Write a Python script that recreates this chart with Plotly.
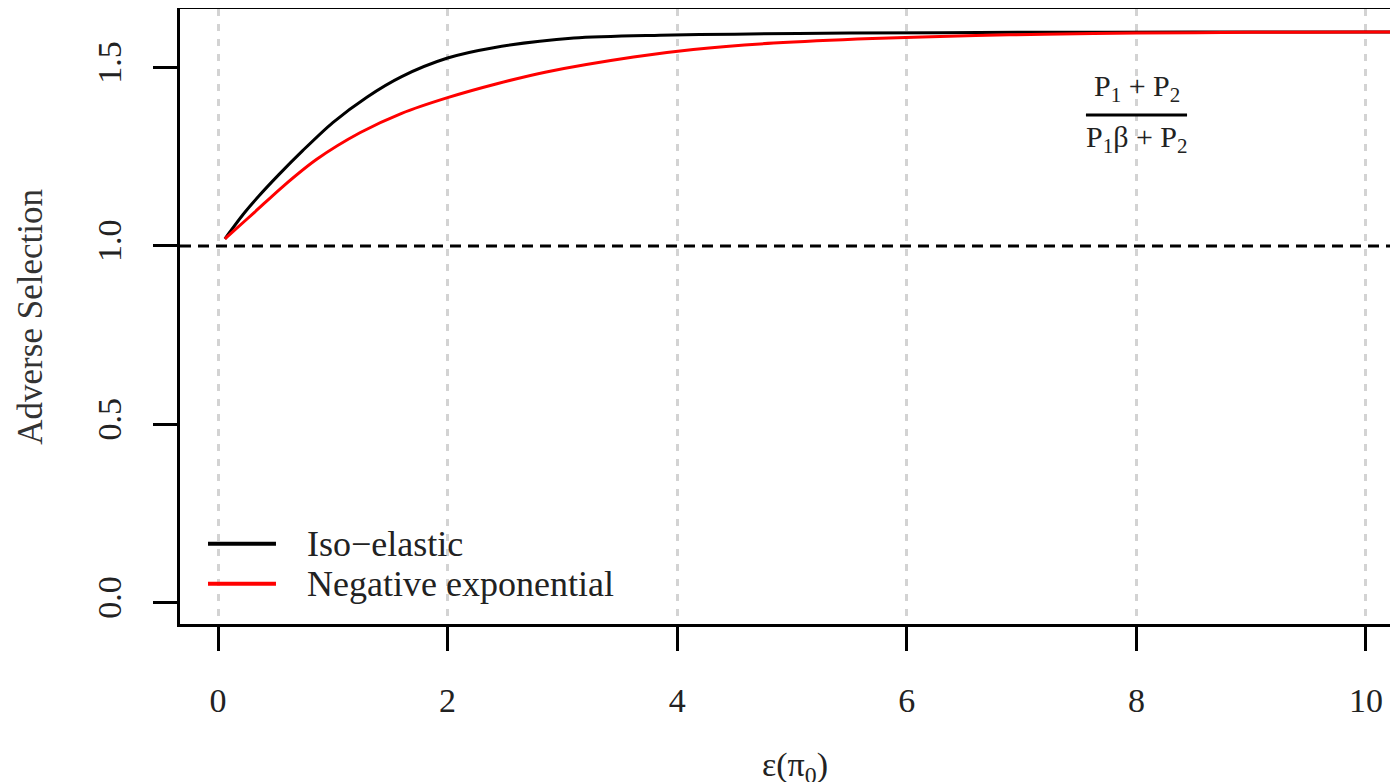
import plotly.graph_objects as go

# ---- data ----
iso_x = [0.06, 0.22, 0.35, 0.53, 0.74, 1.0, 1.3, 1.6, 2.0, 2.4, 3.1, 3.85, 4.5, 5.5, 7.0, 8.5, 10.0, 10.5]
iso_y = [1.02, 1.089, 1.138, 1.20, 1.268, 1.346, 1.418, 1.475, 1.527, 1.556, 1.583, 1.591, 1.594, 1.597, 1.599, 1.6, 1.6, 1.6]

negexp_x = [0.06, 0.13, 0.32, 0.57, 0.86, 1.24, 1.6, 2.0, 2.43, 2.86, 3.62, 4.14, 4.84, 5.7, 6.6, 7.2, 8.0, 9.0, 10.0, 10.5]
negexp_y = [1.02, 1.04, 1.095, 1.168, 1.243, 1.318, 1.372, 1.416, 1.455, 1.488, 1.530, 1.551, 1.569, 1.582, 1.590, 1.594, 1.597, 1.599, 1.6, 1.6]

reference_level = 1.0
x_ticks = [0, 2, 4, 6, 8, 10]
y_ticks = [0.0, 0.5, 1.0, 1.5]
y_tick_labels = ["0.0", "0.5", "1.0", "1.5"]
series_names = ["Iso\u2212elastic", "Negative exponential"]
series_colors = ["#000000", "#ff0000"]

FONT = "Liberation Serif, Times New Roman, serif"

fig = go.Figure()

fig.add_trace(go.Scatter(x=iso_x, y=iso_y, mode="lines", line=dict(color=series_colors[0], width=3, shape="spline", smoothing=0.8),
                         name=series_names[0], showlegend=False))
fig.add_trace(go.Scatter(x=negexp_x, y=negexp_y, mode="lines", line=dict(color=series_colors[1], width=3, shape="spline", smoothing=0.8),
                         name=series_names[1], showlegend=False))

fig.add_hline(y=reference_level, line=dict(color="black", width=3, dash="11px,7px"), layer="above")

# page body has an 8px margin, so the figure is 8px smaller and offset
fig.update_layout(
    width=1390, height=774, autosize=False,
    margin=dict(l=172, r=0, t=1, b=158),
    plot_bgcolor="white", paper_bgcolor="white",
    font=dict(family=FONT, size=34, color="#222222"),
    showlegend=False,
)

fig.update_xaxes(
    range=[-0.331, 10.279], tickvals=x_ticks, ticktext=[str(v) for v in x_ticks],
    showgrid=True, gridcolor="#d3d3d3", gridwidth=3, griddash="7px,8px",
    zeroline=False, showline=True, linecolor="black", linewidth=3, mirror=True,
    ticks="outside", ticklen=24, tickwidth=3, tickcolor="black",
    tickfont=dict(family=FONT, size=34, color="#222222"), ticklabelstandoff=20,
    automargin=False,
)
fig.update_yaxes(
    range=[-0.0603, 1.6645], tickvals=y_ticks, ticktext=y_tick_labels,
    showgrid=False, zeroline=False, showline=True, linecolor="black", linewidth=3,
    ticks="outside", ticklen=24, tickwidth=3, tickcolor="black", tickangle=-90,
    tickfont=dict(family=FONT, size=34, color="#222222"), ticklabelstandoff=18,
    automargin=False,
)

# axis titles
fig.add_annotation(text="Adverse Selection", xref="paper", yref="paper", x=-0.123, y=0.5,
                   textangle=-90, showarrow=False, xanchor="center", yanchor="middle",
                   font=dict(family=FONT, size=35, color="#333333"))
fig.add_annotation(text="\u03b5(\u03c0<sub>0</sub>)", xref="paper", yref="paper", x=0.505, y=-0.2325,
                   showarrow=False, xanchor="center", yanchor="middle",
                   font=dict(family=FONT, size=34, color="#222222"))

# fraction label
fig.add_annotation(text="P<sub>1</sub> + P<sub>2</sub>", xref="paper", yref="paper", x=0.7857, y=0.8715,
                   showarrow=False, xanchor="center", yanchor="middle",
                   font=dict(family=FONT, size=30, color="#222222"))
fig.add_annotation(text="P<sub>1</sub>\u03b2 + P<sub>2</sub>", xref="paper", yref="paper", x=0.7857, y=0.788,
                   showarrow=False, xanchor="center", yanchor="middle",
                   font=dict(family=FONT, size=30, color="#222222"))
fig.add_shape(type="line", xref="paper", yref="paper", x0=0.7438, x1=0.8268, y0=0.8276, y1=0.8276,
              line=dict(color="black", width=3))

# legend
legend_y = [0.1306, 0.0655]
for name, col, ly in zip(series_names, series_colors, legend_y):
    fig.add_shape(type="line", xref="paper", yref="paper", x0=0.023, x1=0.0788, y0=ly, y1=ly,
                  line=dict(color=col, width=4))
    fig.add_annotation(text=name, xref="paper", yref="paper", x=0.1026, y=ly, showarrow=False,
                       xanchor="left", yanchor="middle", font=dict(family=FONT, size=36, color="#222222"))

fig.write_html("out.html")
